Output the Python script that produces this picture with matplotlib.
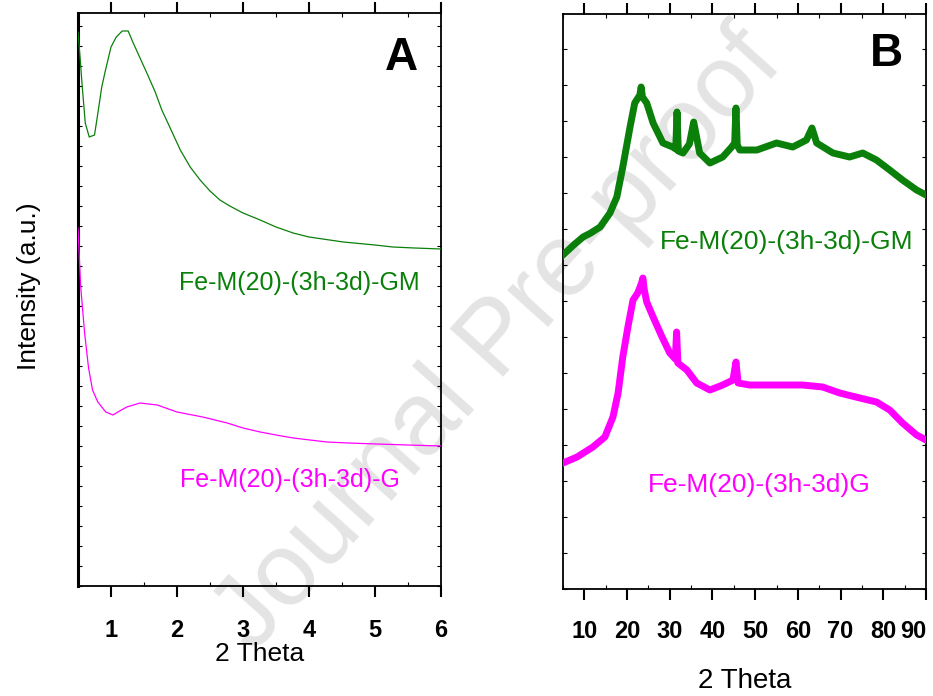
import matplotlib
matplotlib.use("Agg")
import matplotlib.pyplot as plt
from matplotlib.ticker import MultipleLocator

plt.rcParams['font.family'] = ['Liberation Sans', 'DejaVu Sans']

GREEN = '#0a800a'
MAGENTA = '#ff00ff'

# --- low-angle scan (panel A) ---
a_gm_x = [0.50, 0.53, 0.56, 0.61, 0.67, 0.75, 0.79, 0.86, 0.91, 1.00, 1.08, 1.17,
          1.26, 1.33, 1.44, 1.55, 1.67, 1.77, 1.89, 2.05, 2.20, 2.35, 2.50, 2.65,
          2.80, 3.00, 3.26, 3.50, 3.76, 4.00, 4.52, 5.00, 5.27, 5.60, 6.00]
a_gm_y = [554, 530, 503, 463, 449, 451, 468, 499, 514, 539, 549, 555,
          555, 544, 528, 512, 494, 476, 459, 436, 419, 406, 395, 386,
          380, 373, 366, 359, 353, 349, 344, 341, 339, 338, 337]

a_g_x = [0.50, 0.54, 0.60, 0.66, 0.72, 0.80, 0.92, 1.03, 1.13, 1.24, 1.44, 1.70,
         2.00, 2.39, 2.76, 3.00, 3.26, 3.50, 3.76, 4.27, 4.60, 5.03, 5.50, 6.00]
a_g_y = [358, 300, 253, 218, 196, 184, 174, 171, 175, 179, 183, 181,
         174, 169, 163, 158, 154, 151, 148, 144, 143, 142, 141, 140]

# --- wide-angle scan (panel B) ---
b_gm_x = [5, 7.5, 9.7, 11.5, 13.7, 16, 17.6, 19, 20.7, 21.8, 23, 23.3, 23.6, 24.6,
          26.1, 28.4, 30.7, 31.4, 31.7, 32.0, 33.1, 34.6, 35.6, 36.6, 37, 39.4,
          42.4, 44.5, 45.2, 45.5, 45.8, 46.4, 50.4, 55, 58.8, 62, 63.3, 64.4,
          68.2, 72.1, 75.2, 78.4, 81.5, 84.5, 87.8, 90]
b_gm_y = [334, 344, 352, 356, 362, 376, 392, 422, 462, 486, 494, 502, 492, 486,
          466, 446, 442, 440, 477, 438, 436, 445, 467, 445, 436, 426,
          432, 442, 446, 481, 444, 439, 439, 446, 442, 449, 461, 446,
          436, 432, 436, 429, 419, 409, 399, 394]

b_g_x = [5, 8.3, 12, 14.8, 16.7, 17.9, 19, 20.2, 21.4, 22.5, 23.4, 23.7, 24.0, 24.6,
         26.1, 28.2, 30, 31.3, 31.6, 31.9, 34, 36.3, 39.4, 42.4, 44.8, 45.5, 46,
         48.7, 55, 61.1, 65.8, 69.8, 74.5, 78.4, 81.5, 84.5, 87.8, 90]
b_g_y = [126, 132, 142, 152, 172, 196, 232, 262, 289, 296, 306, 311, 300, 287,
         272, 252, 236, 230, 257, 226, 219, 206, 199, 204, 209, 227, 206,
         204, 204, 204, 202, 196, 191, 187, 179, 166, 154, 149]

a_ticks = [1, 2, 3, 4, 5, 6]
b_ticks = [10, 20, 30, 40, 50, 60, 70, 80, 90]

W, H = 933, 696
fig = plt.figure(figsize=(W / 100, H / 100), dpi=100)

# watermark behind both panels
fig.text(0.535, 0.51, 'Journal Pre-proof', fontsize=74, color='#e4e4e4',
         rotation=48, ha='center', va='center', zorder=0)

axA = fig.add_axes([78 / W, 1 - 586 / H, 363 / W, 573 / H], zorder=1)
axB = fig.add_axes([563 / W, 1 - 589 / H, 363 / W, 575 / H], zorder=1)

axA.plot(a_gm_x, a_gm_y, color=GREEN, lw=0.9, zorder=3)
axA.plot(a_g_x, a_g_y, color=MAGENTA, lw=0.9, zorder=3)
axB.plot(b_gm_x, b_gm_y, color=GREEN, lw=5, zorder=3)
axB.plot(b_g_x, b_g_y, color=MAGENTA, lw=5, zorder=3)

axA.set_xlim(0.5, 6)
axA.set_ylim(0, 573)
axB.set_xlim(5, 90)
axB.set_ylim(0, 575)

for ax, ticks, minor, ystep in [(axA, a_ticks, 0.5, 20), (axB, b_ticks, 5, 36)]:
    ax.set_facecolor('none')
    ax.set_xticks(ticks)
    labels = ax.set_xticklabels([str(t) for t in ticks], fontweight='bold')
    ax.xaxis.set_minor_locator(MultipleLocator(minor))
    ax.yaxis.set_major_locator(MultipleLocator(ystep))
    ax.tick_params(axis='x', which='major', direction='out', length=8, width=1.5,
                   labelsize=17, pad=16 if ax is axA else 14)
    ax.tick_params(axis='x', which='minor', direction='in', length=3, width=0.8)
    ax.tick_params(axis='x', which='both', top=True)
    ax.tick_params(axis='y', which='major', direction='in', length=3, width=0.8,
                   left=True, right=True, labelleft=False)
    for sp in ax.spines.values():
        sp.set_linewidth(1.3)

axA.spines['left'].set_linewidth(2.2)
# last label sits at the right spine, keep it inside the figure
labels[-1].set_horizontalalignment('right')

axA.set_xlabel('2 Theta', fontsize=19, labelpad=0)
axB.set_xlabel('2 Theta', fontsize=20, labelpad=18)

axA.text(0.278, 0.529, 'Fe-M(20)-(3h-3d)-GM', transform=axA.transAxes,
         fontsize=18, color=GREEN, ha='left', va='center')
axA.text(0.281, 0.185, 'Fe-M(20)-(3h-3d)-G', transform=axA.transAxes,
         fontsize=18, color=MAGENTA, ha='left', va='center')
axB.text(0.267, 0.603, 'Fe-M(20)-(3h-3d)-GM', transform=axB.transAxes,
         fontsize=19, color=GREEN, ha='left', va='center')
axB.text(0.234, 0.181, 'Fe-M(20)-(3h-3d)G', transform=axB.transAxes,
         fontsize=19, color=MAGENTA, ha='left', va='center')

axA.text(0.89, 0.921, 'A', transform=axA.transAxes, fontsize=33,
         fontweight='bold', ha='center', va='center')
axB.text(0.89, 0.93, 'B', transform=axB.transAxes, fontsize=33,
         fontweight='bold', ha='center', va='center')

fig.text(29 / W, 1 - 286 / H, 'Intensity (a.u.)', rotation=90, fontsize=19,
         ha='center', va='center')

fig.savefig('out.png', dpi=100, facecolor='white')
